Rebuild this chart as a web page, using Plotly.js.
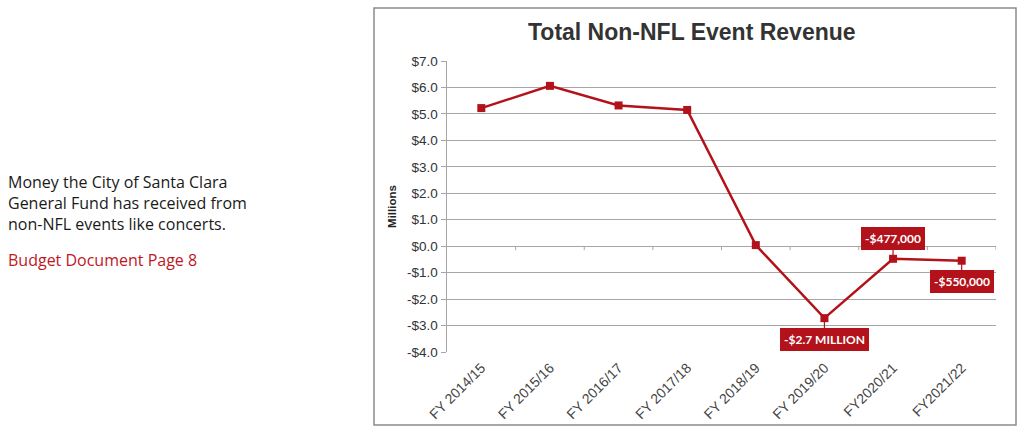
<!DOCTYPE html>
<html><head><meta charset="utf-8">
<script src="https://cdn.plot.ly/plotly-3.0.1.min.js"></script>
<style>html,body{margin:0;padding:0;background:#fff;}#chart{width:1023px;height:438px;}</style>
</head><body><div id="chart"></div>
<script>
const categories = ["FY 2014/15","FY 2015/16","FY 2016/17","FY 2017/18","FY 2018/19","FY 2019/20","FY2020/21","FY2021/22"];
const revenue = [5.22, 6.06, 5.32, 5.15, 0.04, -2.72, -0.477, -0.55];
const yTickVals = [-4,-3,-2,-1,0,1,2,3,4,5,6,7];
const yTickText = yTickVals.map(v => (v < 0 ? "-$" : "$") + Math.abs(v).toFixed(1));
const callouts = [
  {idx: 5, text: "-$2.7 MILLION", ay: 21},
  {idx: 6, text: "-$477,000", ay: -20},
  {idx: 7, text: "-$550,000", ay: 21}
];
const noteLines = ["Money the City of Santa Clara", "General Fund has received from", "non-NFL events like concerts."];
const sourceText = "Budget Document Page 8";
const red = "#b3121a";
const grid = "#a6a6a6";

const M = {l: 447, r: 27, t: 61, b: 86};
const W = 1023, H = 438;
const PW = W - M.l - M.r, PH = H - M.t - M.b;
const px = x => (x - M.l) / PW;
const py = y => (H - M.b - y) / PH;

const trace = {
  x: categories, y: revenue, type: "scatter", mode: "lines+markers",
  line: {color: red, width: 2.5},
  marker: {symbol: "square", size: 8, color: red},
  hoverinfo: "skip", cliponaxis: false
};

const shapes = [
  {type: "rect", xref: "paper", yref: "paper", x0: px(374), x1: px(1016), y0: py(425), y1: py(8),
   line: {color: "#8c8c8c", width: 1.5}, fillcolor: "rgba(0,0,0,0)", layer: "below"}
];
for (let i = 0; i < categories.length; i++) {
  shapes.push({type: "line", xref: "x", yref: "y", x0: i + 0.5, x1: i + 0.5, y0: 0, y1: -0.15,
    line: {color: grid, width: 1}});
}

const annotations = callouts.map(c => ({
  x: categories[c.idx], y: revenue[c.idx], xref: "x", yref: "y",
  text: "<b>" + c.text + "</b>", showarrow: true, arrowhead: 0, arrowwidth: 1.2, arrowcolor: red,
  ax: 0, ay: c.ay, bgcolor: red, bordercolor: red, borderpad: 3, borderwidth: 1,
  font: {family: "Lato, sans-serif", size: 12, color: "#ffffff"}
}));
annotations.push({
  xref: "paper", yref: "paper", x: px(7), y: py(203), xanchor: "left", yanchor: "middle", align: "left",
  showarrow: false, text: noteLines.join("<br>"), borderpad: 0,
  font: {family: "Open Sans, sans-serif", size: 16, color: "#1a1a1a"}
});
annotations.push({
  xref: "paper", yref: "paper", x: px(7), y: py(260), xanchor: "left", yanchor: "middle", align: "left",
  showarrow: false, text: sourceText, borderpad: 0,
  font: {family: "Open Sans, sans-serif", size: 16, color: "#c0171f"}
});
annotations.push({
  xref: "paper", yref: "paper", x: px(692), y: py(32), xanchor: "center", yanchor: "middle",
  showarrow: false, text: "<b>Total Non-NFL Event Revenue</b>",
  font: {family: "Liberation Sans, Arial, sans-serif", size: 23, color: "#333333"}
});

const layout = {
  width: W, height: H,
  margin: M,
  paper_bgcolor: "#ffffff", plot_bgcolor: "#ffffff",
  showlegend: false,
  xaxis: {
    type: "category", range: [-0.5, 7.5], tickangle: -45, showgrid: false, zeroline: false,
    showline: false, ticks: "", ticklabelstandoff: 4,
    tickfont: {family: "Liberation Sans, Arial, sans-serif", size: 14, color: "#444444"}
  },
  yaxis: {
    range: [-4, 7], tickvals: yTickVals, ticktext: yTickText, showgrid: true, gridcolor: grid, gridwidth: 1,
    zeroline: false, showline: true, linecolor: grid, linewidth: 1.5, ticks: "outside", ticklen: 5, tickcolor: grid,
    tickfont: {family: "Liberation Sans, Arial, sans-serif", size: 13.5, color: "#333333"},
    title: {text: "<b>Millions</b>", standoff: 8, font: {family: "Liberation Sans, Arial, sans-serif", size: 11.5, color: "#222222"}}
  },
  shapes: shapes,
  annotations: annotations
};
Plotly.newPlot("chart", [trace], layout, {displayModeBar: false, staticPlot: true});
</script></body></html>
